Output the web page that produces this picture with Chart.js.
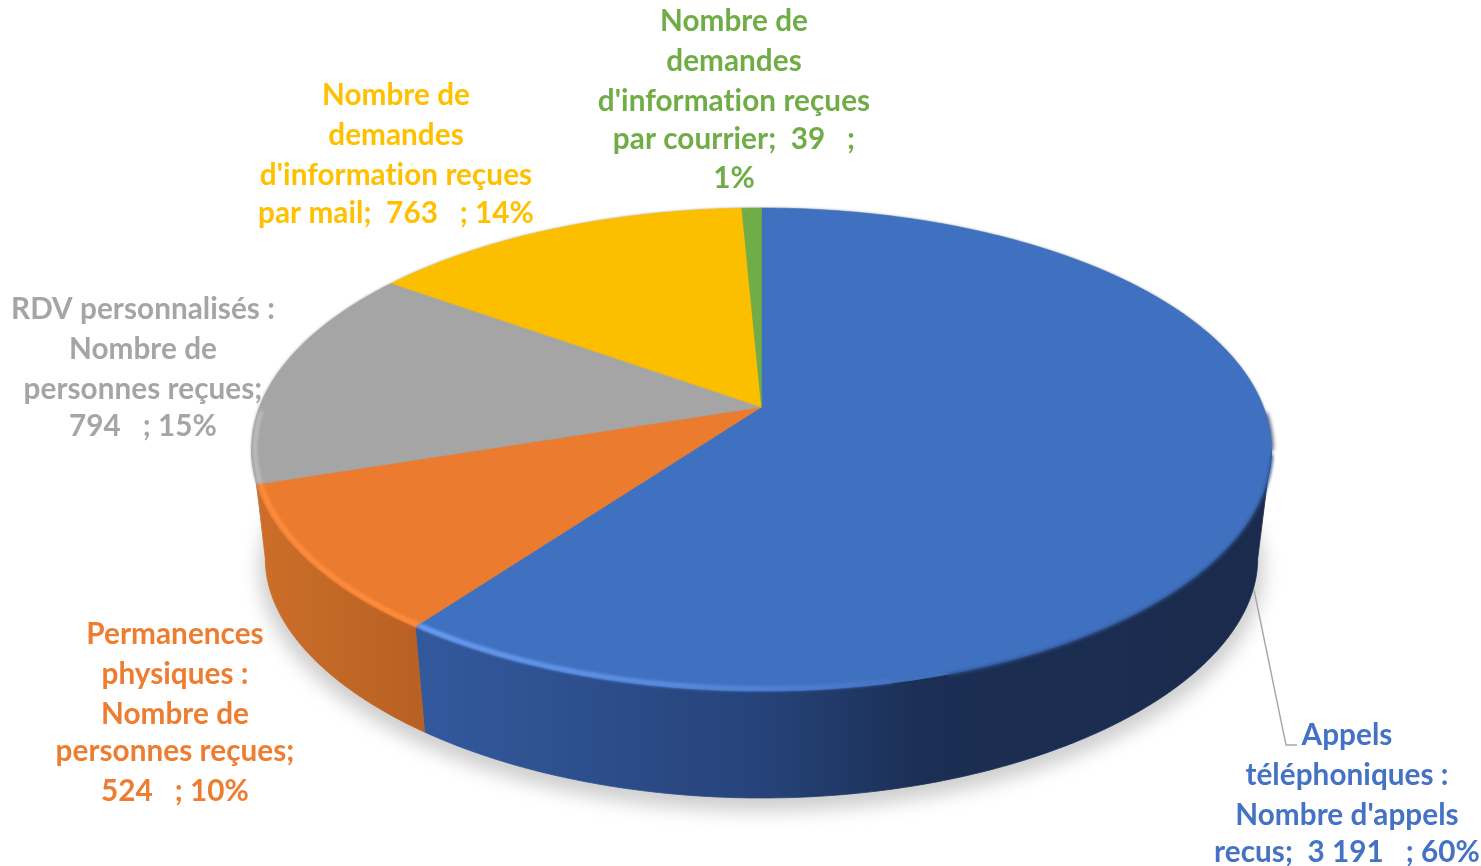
<!DOCTYPE html>
<html lang="fr">
<head>
<meta charset="utf-8">
<title>Répartition des demandes</title>
<script src="https://cdn.jsdelivr.net/npm/chart.js@4"></script>
<style>
html,body{margin:0;padding:0;background:#fff;overflow:hidden}
canvas{display:block;filter:blur(0.6px)}
</style>
</head>
<body>
<canvas id="c" width="1481" height="866"></canvas>
<script>
const categories = [
  "Appels téléphoniques : Nombre d'appels recus",
  "Permanences physiques : Nombre de personnes reçues",
  "RDV personnalisés : Nombre de personnes reçues",
  "Nombre de demandes d'information reçues par mail",
  "Nombre de demandes d'information reçues par courrier"
];
const values = [3191, 524, 794, 763, 39];
const sliceColors = ["#4070c0", "#ea7b2f", "#a5a5a5", "#fbbf00", "#70ad47"];
const textColors = ["#4472c4", "#ed7d31", "#a5a5a5", "#ffc000", "#70ad47"];
const labelLines = [
  ["Appels", "téléphoniques :", "Nombre d'appels", "recus;  3 191   ; 60%"],
  ["Permanences", "physiques :", "Nombre de", "personnes reçues;", "524   ; 10%"],
  ["RDV personnalisés :", "Nombre de", "personnes reçues;", "794   ; 15%"],
  ["Nombre de", "demandes", "d'information reçues", "par mail;  763   ; 14%"],
  ["Nombre de", "demandes", "d'information reçues", "par courrier;  39   ;", "1%"]
];

/* view: perspective projection of the pie's disc */
const view = {cx: 761.5, cy: 407, rx: 502, ry: 234, k: 0.176, shrink: 0.973, lowCy: 518.5, lowRy: 218, lowK: 0.22};
const labelX = [1347, 175, 143, 396, 734];
const labelY = [
  [735, 775, 815, 852],
  [634, 674, 714, 751, 791],
  [309, 349, 389, 426],
  [95, 135, 175, 213],
  [21, 61, 101, 139, 178]
];

function rim(a, r, low) {
  const X = Math.cos(a) * r, Y = Math.sin(a) * r, d = 1 - view.k * Y;
  if (low) {
    return [view.cx + view.shrink * view.rx * X / d,
            view.lowCy + view.lowRy * Y / (1 - view.lowK * Y)];
  }
  return [view.cx + view.rx * X / d, view.cy + view.ry * Y / d];
}
function arcSteps(a0, a1) {
  const n = Math.max(2, Math.ceil(Math.abs(a1 - a0) / 0.01));
  const out = [];
  for (let i = 0; i <= n; i++) out.push(a0 + (a1 - a0) * i / n);
  return out;
}
function trace(ctx, a0, a1, r, low, dy) {
  arcSteps(a0, a1).forEach(a => {
    const p = rim(a, r, low);
    ctx.lineTo(p[0], p[1] + (dy || 0));
  });
}

class Arc3D extends Chart.ArcElement {
  static id = 'arc3d';
  draw(ctx) {
    ctx.save();
    ctx.beginPath();
    ctx.moveTo(view.cx, view.cy);
    trace(ctx, this.startAngle, this.endAngle, 1, false);
    ctx.closePath();
    ctx.fillStyle = this.options.backgroundColor;
    ctx.strokeStyle = this.options.backgroundColor;
    ctx.lineWidth = 0.6;
    ctx.fill();
    ctx.stroke();
    ctx.restore();
  }
}
class Pie3D extends Chart.PieController {
  static id = 'pie3d';
  static defaults = {dataElementType: 'arc3d'};
}
Chart.register(Arc3D, Pie3D);

const TANGENT = Math.asin(view.k);
const LEFT = Math.PI - TANGENT;
const wallStops = [
  [[420, "#33599d"], [760, "#26437a"], [930, "#1b2e53"], [1260, "#1a2b4d"]],
  [[258, "#cc6e29"], [425, "#b86023"]]
];

function wallFill(ctx, stops) {
  const x0 = stops[0][0], x1 = stops[stops.length - 1][0];
  const g = ctx.createLinearGradient(x0, 0, x1, 0);
  stops.forEach(s => g.addColorStop((s[0] - x0) / (x1 - x0), s[1]));
  return g;
}

const pie3dParts = {
  id: 'pie3dParts',
  beforeDatasetsDraw(chart) {
    const ctx = chart.ctx, arcs = chart.getDatasetMeta(0).data;
    // soft shadow under the disc
    ctx.save();
    ctx.filter = 'blur(9px)';
    ctx.fillStyle = '#cfcfcf';
    ctx.beginPath();
    trace(ctx, 0, Math.PI * 2, 1.012, true, 9);
    ctx.closePath();
    ctx.fill();
    ctx.restore();
    // thin shade behind the back rim
    ctx.save();
    ctx.filter = 'blur(1.5px)';
    ctx.fillStyle = '#9a9a9a';
    ctx.beginPath();
    trace(ctx, 0, Math.PI * 2, 1.0, false);
    ctx.closePath();
    ctx.fill();
    // dark edge on the right shoulder
    ctx.filter = 'blur(2px)';
    ctx.strokeStyle = '#1a2b4d';
    ctx.lineWidth = 3;
    ctx.lineCap = 'round';
    ctx.beginPath();
    trace(ctx, 0.03, TANGENT, 1.0, false);
    ctx.stroke();
    ctx.restore();
    // grey sliver left of the orange wall
    const blue = arcs[0], orange = arcs[1];
    ctx.fillStyle = '#9a9a9a';
    ctx.beginPath();
    trace(ctx, orange.endAngle, LEFT, 1, false);
    trace(ctx, LEFT, LEFT, 1, true);
    ctx.closePath();
    ctx.fill();
    // side walls
    ctx.save();
    ctx.lineWidth = 0.8;
    ctx.beginPath();
    trace(ctx, TANGENT, blue.endAngle, 1, false);
    trace(ctx, blue.endAngle, TANGENT, 1, true);
    ctx.closePath();
    ctx.fillStyle = ctx.strokeStyle = wallFill(ctx, wallStops[0]);
    ctx.fill();
    ctx.stroke();
    ctx.beginPath();
    trace(ctx, orange.startAngle, orange.endAngle, 1, false);
    trace(ctx, LEFT, orange.startAngle, 1, true);
    ctx.closePath();
    ctx.fillStyle = ctx.strokeStyle = wallFill(ctx, wallStops[1]);
    ctx.fill();
    ctx.stroke();
    ctx.restore();
  },
  afterDatasetsDraw(chart) {
    const ctx = chart.ctx, arcs = chart.getDatasetMeta(0).data;
    const blue = arcs[0], orange = arcs[1], grey = arcs[2];
    ctx.save();
    // soft edge between the face and the dark wall
    ctx.filter = 'blur(1.6px)';
    ctx.strokeStyle = '#2f5390';
    ctx.lineWidth = 2.5;
    ctx.beginPath();
    trace(ctx, TANGENT + 0.02, Math.PI * 0.4, 1.001, false);
    ctx.stroke();
    // bevel highlight along the front edge
    ctx.filter = 'blur(1.5px)';
    const start = Math.PI * 0.43;
    const g = ctx.createLinearGradient(rim(blue.endAngle, 1, false)[0], 0, rim(start, 1, false)[0], 0);
    g.addColorStop(0, '#6a9ef2');
    g.addColorStop(0.45, '#5c90e4');
    g.addColorStop(1, '#4474c6');
    ctx.strokeStyle = g;
    ctx.lineWidth = 5;
    ctx.beginPath();
    trace(ctx, start, blue.endAngle, 0.993, false);
    ctx.stroke();
    ctx.strokeStyle = '#fd8c3c';
    ctx.beginPath();
    trace(ctx, orange.startAngle, orange.endAngle, 0.993, false);
    ctx.stroke();
    ctx.strokeStyle = '#bdbdbd';
    ctx.lineWidth = 4;
    ctx.beginPath();
    trace(ctx, grey.startAngle, grey.startAngle + 0.3, 0.993, false);
    ctx.stroke();
    ctx.restore();

    // leader line of the first label
    ctx.save();
    ctx.strokeStyle = '#a6a6a6';
    ctx.lineWidth = 1.4;
    ctx.beginPath();
    ctx.moveTo(1254, 590);
    ctx.lineTo(1286, 745);
    ctx.lineTo(1297, 745);
    ctx.stroke();
    ctx.restore();

    // data labels
    ctx.save();
    ctx.font = 'bold 29.7px Lato, "Open Sans", sans-serif';
    ctx.letterSpacing = '0.05px';
    ctx.textAlign = 'center';
    ctx.textBaseline = 'middle';
    labelLines.forEach((lines, i) => {
      ctx.fillStyle = textColors[i];
      lines.forEach((t, j) => ctx.fillText(t, labelX[i], labelY[i][j]));
    });
    ctx.restore();
  }
};

new Chart(document.getElementById('c'), {
  type: 'pie3d',
  data: {
    labels: categories,
    datasets: [{data: values, backgroundColor: sliceColors, borderWidth: 0}]
  },
  options: {
    responsive: false,
    animation: false,
    events: [],
    plugins: {legend: {display: false}, tooltip: {enabled: false}, title: {display: false}}
  },
  plugins: [pie3dParts]
});
</script>
</body>
</html>
